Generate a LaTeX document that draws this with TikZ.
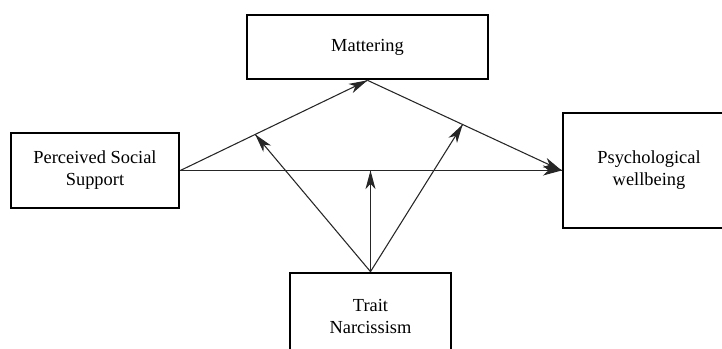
\documentclass[tikz,border=0pt]{standalone}
\usepackage{fontspec}
\setmainfont{Liberation Serif}
\usepackage{tikz}
\usetikzlibrary{arrows.meta}
\usetikzlibrary{decorations.markings}
\usetikzlibrary{calc}
\tikzset{effect/.style = {decoration={markings,
                                      mark=at position 1 with {\arrow{Stealth[length=14pt, width=7.5pt, inset=4pt]}}},
                          postaction={decorate}, line width=0.8pt, draw=black!85}}
\tikzset{var/.style = {draw, line width=2pt, align=center, inner sep=0,
                       font=\fontsize{13.8}{16.5}\selectfont}}

\begin{document}
\begin{tikzpicture}[x=0.75pt, y=0.75pt]
    \useasboundingbox (0, 0) rectangle (722, 349);
    \clip (0, 0) rectangle (722, 349);

    \node [var, minimum width=180.75pt, minimum height=48pt] (mat) at (367.5, 302) {Mattering};
    \node [var, minimum width=126pt, minimum height=56.25pt] (pss) at (95, 178.5) {Perceived Social\\Support};
    \node [var, minimum width=129pt, minimum height=86.25pt] (pw) at (649, 178.5) {Psychological\\wellbeing};
    \node [var, minimum width=120.75pt, minimum height=66pt] (trait) at (370.5, 32) {Trait\\Narcissism};

    % direct and indirect paths
    \draw [effect] (pss.east) -- (mat.south);
    \draw [effect] (mat.south) -- (pw.west);
    \draw [effect] (pss.east) -- (pw.west);

    % moderation by trait narcissism
    \coordinate (apath) at ($(pss.east)!0.4!(mat.south)$);
    \coordinate (bpath) at ($(mat.south)!0.49!(pw.west)$);
    \coordinate (cpath) at (trait.north |- pss.east);
    \draw [effect] (trait.north) -- (apath);
    \draw [effect] (trait.north) -- (bpath);
    \draw [effect] (trait.north) -- (cpath);
\end{tikzpicture}
\end{document}
